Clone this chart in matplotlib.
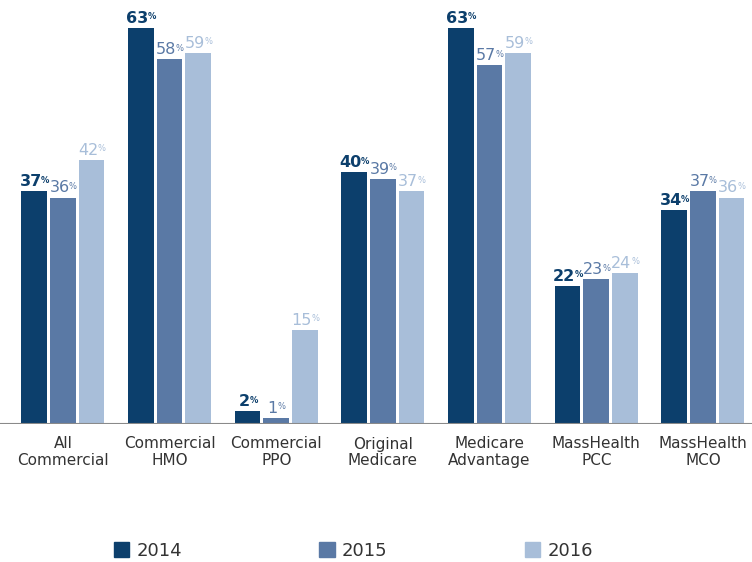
import matplotlib
matplotlib.use("Agg")
from matplotlib import pyplot as plt
from matplotlib.patches import Patch
import numpy as np

# data
categories = ["All\nCommercial", "Commercial\nHMO", "Commercial\nPPO", "Original\nMedicare",
              "Medicare\nAdvantage", "MassHealth\nPCC", "MassHealth\nMCO"]
years = ["2014", "2015", "2016"]
v2014 = [37, 63, 2, 40, 63, 22, 34]
v2015 = [36, 58, 1, 39, 57, 23, 37]
v2016 = [42, 59, 15, 37, 59, 24, 36]

colors = ["#0c3f6c", "#5a79a5", "#a8bed9"]
weights = ["bold", "normal", "normal"]

fig = plt.figure(figsize=(7.52, 5.62), dpi=100)
ax = fig.add_axes([0, 138 / 562, 1, 1 - 138 / 562])

x = np.arange(len(categories))
step = 0.269
width = 0.24

for i, vals in enumerate([v2014, v2015, v2016]):
    xs = x + (i - 1) * step
    ax.bar(xs, vals, width=width, color=colors[i], zorder=2)
    for xi, v in zip(xs, vals):
        t = ax.annotate(str(v), xy=(xi, v), xytext=(-2.5, 1.5), textcoords="offset points",
                        ha="center", va="bottom", fontsize=11.5, color=colors[i],
                        fontweight=weights[i])
        ax.annotate("%", xy=(0.97, 0.9), xycoords=t, ha="left", va="top",
                    fontsize=6, color=colors[i], fontweight=weights[i])

ax.set_xlim(-0.59, 6.46)
ax.set_ylim(0, 424 / 6.29)
ax.axhline(0, color="#8a8a8a", lw=1.5, zorder=3)

for s in ax.spines.values():
    s.set_visible(False)
ax.set_yticks([])
ax.set_xticks(x)
ax.set_xticklabels(categories, fontsize=11, color="#333333", linespacing=1.15)
ax.tick_params(axis="x", length=0, pad=9)

handles = [Patch(color=c) for c in colors]
fig.legend(handles, years, loc="center", bbox_to_anchor=(0.47, 0.02), ncol=3,
           frameon=False, fontsize=13, handlelength=0.85, handleheight=0.85,
           handletextpad=0.4, columnspacing=7.6, labelcolor="#333333")

fig.savefig("out.png", dpi=100)
